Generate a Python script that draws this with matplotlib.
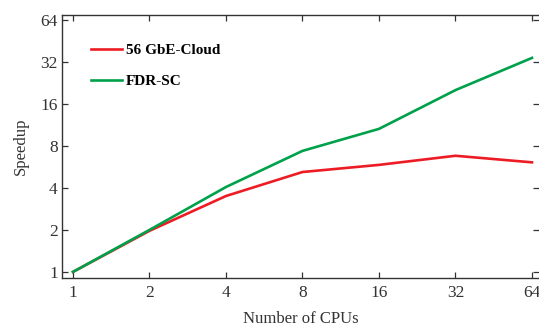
import matplotlib
matplotlib.use("Agg")
import matplotlib.pyplot as plt

cpus = [1, 2, 4, 8, 16, 32, 64]
cloud_56gbe = [1.0, 1.97, 3.5, 5.2, 5.85, 6.8, 6.1]
fdr_sc = [1.0, 2.0, 4.06, 7.37, 10.6, 20.1, 34.2]
tick_vals = [1, 2, 4, 8, 16, 32, 64]
tick_labels = ["1", "2", "4", "8", "16", "32", "64"]

plt.rcParams['font.family'] = ['Liberation Serif', 'DejaVu Serif']

fig = plt.figure(figsize=(5.39, 3.25), dpi=100)
ax = fig.add_axes([0.115, 0.145, 0.885, 0.809])

ax.plot(cpus, cloud_56gbe, color='#ed1c24', lw=1.9, label='56 GbE-Cloud')
ax.plot(cpus, fdr_sc, color='#00a14b', lw=1.9, label='FDR-SC')

ax.set_xscale('log', base=2)
ax.set_yscale('log', base=2)
ax.set_xlim(0.905, 68.2)
ax.set_ylim(0.906, 69.5)
ax.set_xticks(tick_vals)
ax.set_xticklabels(tick_labels)
ax.set_yticks(tick_vals)
ax.set_yticklabels(tick_labels)
ax.minorticks_off()
ax.tick_params(which='both', direction='in', length=4, width=0.9, top=True, right=True,
               labelsize=12.5, colors='#333333', pad=5)
ax.tick_params(axis='y', pad=3)
for s in ax.spines.values():
    s.set_linewidth(1.0)
    s.set_color('#333333')
ax.spines['right'].set_visible(False)

ax.set_xlabel('Number of CPUs', fontsize=12, color='#333333', labelpad=7)
ax.set_ylabel('Speedup', fontsize=12, color='#333333', labelpad=8)

leg = ax.legend(loc='upper left', bbox_to_anchor=(0.048, 0.915), frameon=False,
                prop={'weight': 'bold', 'size': 11}, handlelength=2.0,
                labelspacing=1.15, handletextpad=0.3, borderaxespad=0)

fig.savefig('out.png', dpi=100)
